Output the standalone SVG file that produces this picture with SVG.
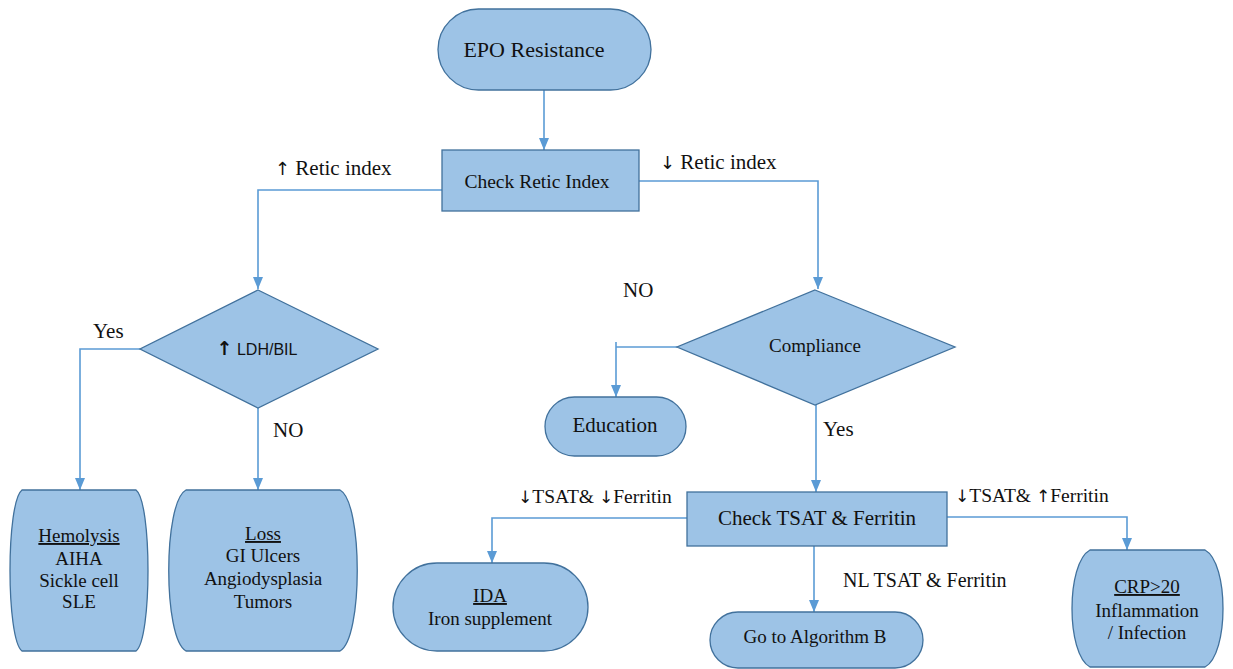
<svg xmlns="http://www.w3.org/2000/svg" width="1233" height="669" viewBox="0 0 1233 669">
<style>
.node{fill:#9DC3E6;stroke:#41719C;stroke-width:1.3}
.conn{fill:none;stroke:#5B9BD5;stroke-width:1.6}
text{font-family:"Liberation Serif","DejaVu Serif",serif;fill:#111;font-size:19px}
.c{text-anchor:middle}
.u{text-decoration:underline}
.sans{font-family:"Liberation Sans","DejaVu Sans",sans-serif;font-size:16px}
.lbl{font-size:21px}
.lbl2{font-size:19.5px}
.arw{font-family:"DejaVu Sans",sans-serif;fill:#111}
</style>
<defs>
<marker id="ah" viewBox="0 0 12 10" refX="12" refY="5" markerWidth="12" markerHeight="10" markerUnits="userSpaceOnUse" orient="auto">
<path d="M0,0 L12,5 L0,10 Z" fill="#5B9BD5"/>
</marker>
</defs>
<rect width="1233" height="669" fill="#fff"/>
<g id="connectors">
<path class="conn" d="M544,90 V150" marker-end="url(#ah)"/>
<path class="conn" d="M442,190 H258 V289" marker-end="url(#ah)"/>
<path class="conn" d="M639,181 H818 V289" marker-end="url(#ah)"/>
<path class="conn" d="M140,349 H80 V490" marker-end="url(#ah)"/>
<path class="conn" d="M258,408 V490" marker-end="url(#ah)"/>
<path class="conn" d="M677,347 H616"/>
<path class="conn" d="M616,342 V397" marker-end="url(#ah)"/>
<path class="conn" d="M816,405 V492" marker-end="url(#ah)"/>
<path class="conn" d="M687,518 H492 V563" marker-end="url(#ah)"/>
<path class="conn" d="M814,546 V612" marker-end="url(#ah)"/>
<path class="conn" d="M947,517 H1127 V550" marker-end="url(#ah)"/>
<text class="lbl" x="275" y="175"><tspan class="arw" font-size="18">↑</tspan> Retic index</text>
<text class="lbl" x="660" y="169"><tspan class="arw" font-size="18">↓</tspan> Retic index</text>
<text class="lbl" x="93" y="338">Yes</text>
<text class="lbl" x="273" y="437">NO</text>
<text class="lbl" x="623" y="297">NO</text>
<text class="lbl" x="823" y="436">Yes</text>
<text class="lbl2" x="518" y="503"><tspan class="arw" font-size="17">↓</tspan>TSAT&amp; <tspan class="arw" font-size="17">↓</tspan>Ferritin</text>
<text x="843" y="587" style="font-size:20px">NL TSAT &amp; Ferritin</text>
<text class="lbl2" x="955" y="502"><tspan class="arw" font-size="17">↓</tspan>TSAT&amp; <tspan class="arw" font-size="17">↑</tspan>Ferritin</text>
</g>
<g id="epo">
<rect class="node" x="438" y="9" width="213" height="81" rx="40.5"/>
<text class="c" x="534" y="57" style="font-size:22px">EPO Resistance</text>
</g>
<g id="retic">
<rect class="node" x="442" y="150" width="197" height="61"/>
<text class="c" x="537" y="188" style="font-size:19.5px">Check Retic Index</text>
</g>
<g id="ldh">
<path class="node" d="M258,290 L378,349 L258,408 L140,349 Z"/>
<text class="c sans" x="257" y="355"><tspan class="arw" font-size="19" font-weight="bold">↑</tspan> LDH/BIL</text>
</g>
<g id="hemolysis">
<path class="node" d="M22,490 L136,490 C152,502 152,639 136,651 L22,651 C6,639 6,502 22,490 Z"/>
<text class="c u" x="79" y="542">Hemolysis</text>
<text class="c" x="79" y="565">AIHA</text>
<text class="c" x="79" y="587">Sickle cell</text>
<text class="c" x="79" y="608">SLE</text>
</g>
<g id="loss">
<path class="node" d="M186,490 L340,490 C363,502 363,639 340,651 L186,651 C163,639 163,502 186,490 Z"/>
<text class="c u" x="263" y="540">Loss</text>
<text class="c" x="263" y="562">GI Ulcers</text>
<text class="c" x="263" y="585">Angiodysplasia</text>
<text class="c" x="263" y="608">Tumors</text>
</g>
<g id="compliance">
<path class="node" d="M815,290 L955,347 L815,405 L677,347 Z"/>
<text class="c" x="815" y="352">Compliance</text>
</g>
<g id="education">
<rect class="node" x="545" y="397" width="141" height="59" rx="29.5"/>
<text class="c" x="615" y="432" style="font-size:21px">Education</text>
</g>
<g id="tsat">
<rect class="node" x="687" y="492" width="260" height="54"/>
<text class="c" x="817" y="525" style="font-size:21px">Check TSAT &amp; Ferritin</text>
</g>
<g id="ida">
<rect class="node" x="393" y="563" width="195" height="88" rx="44"/>
<text class="c u" x="490" y="602">IDA</text>
<text class="c" x="490" y="625">Iron supplement</text>
</g>
<g id="algob">
<rect class="node" x="710" y="612" width="213" height="56" rx="28"/>
<text class="c" x="815" y="643">Go to Algorithm B</text>
</g>
<g id="crp">
<path class="node" d="M1090,550 L1205,550 C1229,563 1229,654 1205,667 L1090,667 C1066,654 1066,563 1090,550 Z"/>
<text class="c u" x="1147" y="593">CRP&gt;20</text>
<text class="c" x="1147" y="617">Inflammation</text>
<text class="c" x="1147" y="639">/ Infection</text>
</g>
</svg>
